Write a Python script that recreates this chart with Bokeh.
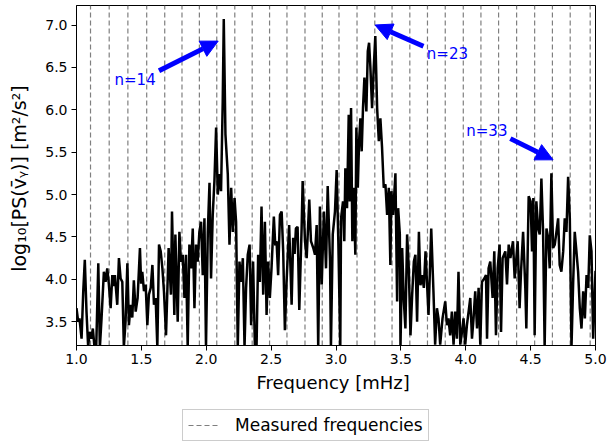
from bokeh.plotting import figure
from bokeh.layouts import column
from bokeh.models import (Range1d, SingleIntervalTicker, NumeralTickFormatter, Legend,
                          LegendItem, Label, Arrow, NormalHead)
from bokeh.embed import file_html
from bokeh.resources import INLINE

# ---------------- data ----------------
freq_mhz = [
    1.000, 1.013, 1.023, 1.039, 1.052, 1.064, 1.077, 1.090, 1.100, 1.114, 1.126, 1.139, 1.152, 1.168,
    1.180, 1.193, 1.211, 1.224, 1.237, 1.249, 1.263, 1.276, 1.286, 1.296, 1.314, 1.327, 1.340, 1.353,
    1.365, 1.378, 1.392, 1.404, 1.417, 1.430, 1.442, 1.456, 1.471, 1.489, 1.498, 1.507, 1.520, 1.533,
    1.546, 1.558, 1.572, 1.585, 1.597, 1.610, 1.623, 1.636, 1.649, 1.662, 1.674,
    1.690, 1.710, 1.728, 1.736, 1.754, 1.762, 1.780, 1.793, 1.805, 1.819, 1.832, 1.844, 1.857, 1.870,
    1.883, 1.896, 1.909, 1.921, 1.934, 1.947, 1.960, 1.973, 1.986, 1.998, 2.012, 2.025, 2.037, 2.050,
    2.063, 2.076, 2.089, 2.102, 2.114, 2.127, 2.135, 2.148, 2.166, 2.179, 2.192, 2.205, 2.218, 2.230,
    2.243, 2.256, 2.269, 2.282, 2.295, 2.307, 2.320, 2.334, 2.346,
    2.361, 2.375, 2.388, 2.400, 2.413, 2.426, 2.439, 2.452, 2.465, 2.477, 2.490, 2.503, 2.521, 2.532,
    2.542, 2.554, 2.568, 2.581, 2.593, 2.606, 2.619, 2.639, 2.658, 2.670, 2.681, 2.691, 2.704, 2.717,
    2.735, 2.743, 2.761, 2.774, 2.794, 2.807, 2.825, 2.838, 2.851, 2.863, 2.876, 2.890, 2.907, 2.923,
    2.936, 2.954, 2.961, 2.975, 2.992, 3.005, 3.018,
    3.033, 3.039, 3.054, 3.064, 3.072, 3.085, 3.098, 3.106, 3.116, 3.126, 3.137, 3.149, 3.157, 3.168,
    3.178, 3.188, 3.198, 3.208, 3.219, 3.234, 3.245, 3.255, 3.265, 3.278, 3.291, 3.303, 3.317, 3.330,
    3.342, 3.355, 3.368, 3.381, 3.394, 3.407, 3.419, 3.427, 3.440, 3.458, 3.471, 3.479, 3.492, 3.497,
    3.510, 3.523, 3.535, 3.548, 3.561, 3.574, 3.587, 3.600, 3.612, 3.625, 3.639, 3.651, 3.664, 3.677,
    3.690,
    3.713, 3.734, 3.751, 3.764, 3.778, 3.790, 3.803, 3.821, 3.842, 3.855, 3.867, 3.880, 3.893, 3.906,
    3.919, 3.932, 3.944, 3.958, 3.971, 3.983, 3.996, 4.009, 4.022, 4.035, 4.048, 4.060, 4.073, 4.087,
    4.099, 4.112, 4.125, 4.143, 4.156, 4.164, 4.176, 4.189, 4.207, 4.220, 4.233, 4.246, 4.261, 4.272,
    4.284, 4.305, 4.318, 4.331, 4.344, 4.364, 4.377, 4.388, 4.400, 4.415, 4.426, 4.442, 4.459, 4.467,
    4.485, 4.500, 4.511, 4.521, 4.531, 4.544, 4.558, 4.570, 4.583, 4.596, 4.608, 4.622, 4.635, 4.647,
    4.660, 4.673, 4.686, 4.699, 4.712, 4.724, 4.737, 4.751, 4.763, 4.776, 4.789, 4.802, 4.815, 4.828,
    4.840, 4.853, 4.866, 4.879, 4.892, 4.905, 4.918, 4.931, 4.944, 4.956, 4.969, 4.982, 5.000,
]

log_power = [
    3.66, 3.50, 3.54, 3.30, 3.86, 4.23, 3.62, 3.20, 3.38, 3.30, 3.42, 3.19, 3.20, 4.19,
    3.19, 3.54, 4.09, 3.97, 4.13, 3.95, 3.66, 4.05, 3.92, 4.05, 3.70, 4.25, 4.01, 3.97,
    3.20, 3.50, 4.19, 3.46, 3.70, 3.55, 3.99, 3.62, 3.78, 4.37, 3.95, 4.09, 3.86, 3.94,
    3.46, 3.82, 3.90, 4.17, 3.70, 3.78, 3.20, 4.41, 4.33, 4.13, 3.86,
    3.34, 4.37, 3.82, 4.80, 3.58, 4.53, 3.50, 4.56, 4.21, 4.29, 3.78, 4.29, 3.20, 4.41,
    4.13, 4.60, 3.66, 4.41, 4.21, 4.56, 4.68, 4.05, 4.72, 3.20, 4.56, 5.14, 4.01, 4.76,
    5.16, 5.79, 5.00, 5.24, 5.04, 6.10, 7.07, 5.71, 5.24, 4.41, 5.08, 4.56, 4.96, 4.68,
    3.20, 4.21, 3.97, 4.25, 3.20, 3.90, 4.29, 4.41, 3.46,
    4.21, 3.19, 3.23, 4.29, 3.97, 4.86, 3.82, 4.68, 3.58, 4.21, 3.78, 4.13, 4.74, 4.40,
    4.45, 4.05, 4.76, 4.80, 4.33, 3.40, 3.97, 4.64, 3.70, 4.49, 4.30, 4.60, 4.62, 3.64,
    4.60, 5.16, 4.45, 4.25, 4.94, 4.45, 4.37, 4.29, 4.64, 3.19, 4.86, 3.94, 4.80, 4.13,
    5.10, 4.21, 3.19, 4.53, 4.80, 5.29, 4.45,
    3.20, 4.72, 4.92, 4.45, 5.31, 4.84, 5.94, 4.92, 6.02, 4.45, 5.08, 4.29, 5.79, 5.08,
    5.63, 5.90, 5.51, 6.02, 6.38, 5.98, 6.69, 6.79, 6.50, 6.02, 6.50, 6.87, 6.02, 5.63,
    5.90, 5.55, 5.08, 5.12, 4.76, 5.08, 4.17, 5.04, 4.76, 5.25, 3.74, 4.84, 4.53, 3.20,
    4.37, 3.74, 3.42, 4.53, 4.13, 3.34, 3.82, 4.21, 4.29, 3.50, 4.56, 3.93, 4.05, 3.90,
    4.33,
    3.58, 4.60, 3.86, 3.23, 3.66, 3.54, 3.23, 3.54, 3.74, 3.46, 3.54, 3.34, 3.62, 3.23,
    3.62, 3.30, 4.09, 3.23, 3.38, 3.54, 3.23, 3.46, 3.62, 3.78, 3.30, 3.54, 3.86, 3.42,
    3.90, 3.23, 3.97, 4.01, 4.05, 3.30, 4.13, 4.21, 3.78, 4.33, 3.34, 4.13, 4.41, 3.38,
    4.25, 4.33, 3.94, 4.41, 4.25, 4.45, 4.01, 4.21, 4.45, 3.66, 4.09, 4.56, 3.90, 3.42,
    4.98, 4.92, 4.33, 4.96, 3.34, 4.92, 4.60, 4.53, 5.19, 4.56, 3.20, 4.60, 4.49, 4.13,
    5.25, 4.37, 4.41, 4.56, 4.72, 4.17, 4.09, 4.33, 4.72, 4.56, 5.21, 4.72, 3.20, 3.97,
    4.56, 4.33, 4.09, 3.66, 3.42, 3.86, 3.54, 4.05, 3.90, 4.52, 4.33, 3.30, 4.10,
]

measured_freqs = [1.108, 1.252, 1.396, 1.541, 1.680, 1.813, 1.947, 2.081, 2.220, 2.354,
                  2.488, 2.622, 2.761, 2.894, 3.023, 3.162, 3.299, 3.432, 3.569, 3.705,
                  3.842, 3.981, 4.117, 4.253, 4.392, 4.531, 4.668, 4.805, 4.959]

ann_text = ["n=14", "n=23", "n=33"]
ann_text_x = [1.293, 3.700, 4.004]
ann_text_y = [6.355, 6.66, 5.75]
ann_tail_x = [1.636, 3.674, 4.344]
ann_tail_y = [6.46, 6.75, 5.66]
ann_head_x = [2.092, 3.301, 4.673]
ann_head_y = [6.81, 7.00, 5.41]

X_MIN, X_MAX = 1.0, 5.0
Y_MIN, Y_MAX = 3.22, 7.23
x_ticks_step = 0.5
y_ticks_step = 0.5

FONT = "DejaVu Sans"
MEAS_STYLE = dict(line_color="#7f7f7f", line_width=1.2, line_dash="5 3")

# ---------------- main figure ----------------
p = figure(width=608, height=398, output_backend="svg", toolbar_location=None,
           x_range=Range1d(X_MIN, X_MAX), y_range=Range1d(Y_MIN, Y_MAX),
           min_border_left=76, min_border_right=13, min_border_top=5, min_border_bottom=53,
           background_fill_color="white", border_fill_color="white")

p.xgrid.grid_line_color = None
p.ygrid.grid_line_color = None
p.outline_line_color = "black"
p.outline_line_width = 1
p.outline_line_alpha = 1.0

for ax, step in ((p.xaxis, x_ticks_step), (p.yaxis, y_ticks_step)):
    ax.ticker = SingleIntervalTicker(interval=step, num_minor_ticks=0)
    ax.formatter = NumeralTickFormatter(format="0.0")
    ax.major_tick_out = 5
    ax.major_tick_in = 0
    ax.minor_tick_line_color = None
    ax.axis_line_color = "black"
    ax.major_tick_line_color = "black"
    ax.major_label_text_font = FONT
    ax.major_label_text_font_size = "14px"
    ax.major_label_text_color = "black"
    ax.axis_label_text_font = FONT
    ax.axis_label_text_font_size = "18px"
    ax.axis_label_text_font_style = "normal"
    ax.axis_label_text_color = "black"

p.xaxis.axis_label = "Frequency  [mHz]"
p.xaxis.major_label_standoff = 3
p.xaxis.axis_label_standoff = 5
p.yaxis.axis_label = "log\u2081\u2080[PS(v\u0304\u1d67)]  [m\u00b2/s\u00b2]"
p.yaxis.axis_label_text_font_size = "19px"
p.yaxis.major_label_standoff = 4
p.yaxis.axis_label_standoff = 12

# measured frequencies
n_meas = len(measured_freqs)
p.segment(x0=measured_freqs, y0=[Y_MIN] * n_meas, x1=measured_freqs, y1=[Y_MAX] * n_meas,
          **MEAS_STYLE)

# spectrum
p.line(freq_mhz, log_power, line_color="black", line_width=2.5)

# annotations
for t, tx, ty, x0, y0, x1, y1 in zip(ann_text, ann_text_x, ann_text_y,
                                     ann_tail_x, ann_tail_y, ann_head_x, ann_head_y):
    p.add_layout(Arrow(end=NormalHead(size=17, fill_color="blue", line_color="blue", line_width=1),
                       x_start=x0, y_start=y0, x_end=x1, y_end=y1,
                       line_color="blue", line_width=5))
    p.add_layout(Label(x=tx, y=ty, text=t, text_color="blue", text_font=FONT,
                       text_font_size="15px", text_align="left", text_baseline="alphabetic"))

# ---------------- legend strip below ----------------
lg = figure(width=608, height=43, output_backend="svg", toolbar_location=None,
            x_range=Range1d(0, 1), y_range=Range1d(0, 1),
            x_axis_type=None, y_axis_type=None,
            min_border_left=0, min_border_right=0, min_border_top=0, min_border_bottom=0,
            background_fill_color="white", border_fill_color="white")
lg.outline_line_color = None
lg.xgrid.grid_line_color = None
lg.ygrid.grid_line_color = None
# proxy renderer (kept outside the visible range) that only supplies the legend glyph style
dummy = lg.segment(x0=[-5], y0=[-5], x1=[-4], y1=[-5], **MEAS_STYLE)

legend = Legend(items=[LegendItem(label="Measured frequencies", renderers=[dummy])],
                location=(106, 0), orientation="horizontal",
                border_line_color="#cccccc", border_line_width=1, border_line_alpha=1.0,
                background_fill_color="white", background_fill_alpha=0.8,
                label_text_font=FONT, label_text_font_size="17px", label_text_color="black",
                glyph_width=32, glyph_height=16, label_standoff=15, padding=5,
                spacing=0, margin=0, label_height=16)
lg.add_layout(legend, "center")

layout = column(p, lg, spacing=0)
open("out.html", "w").write(file_html(layout, INLINE))
